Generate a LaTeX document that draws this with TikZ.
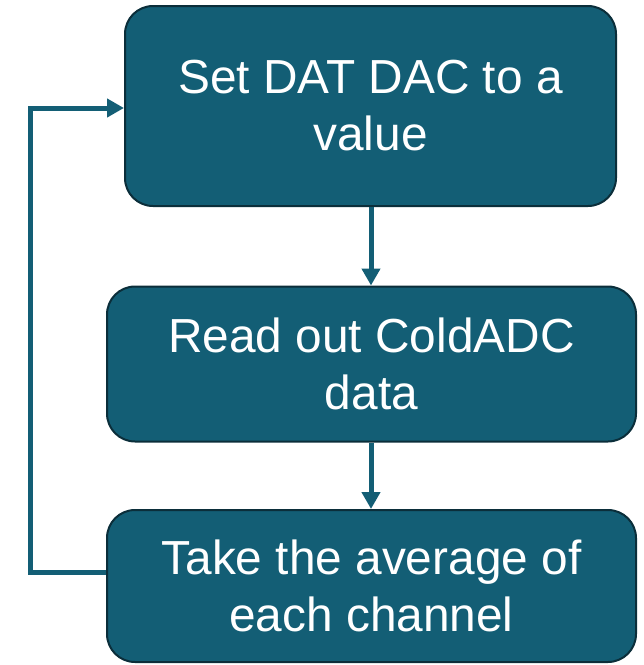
\documentclass[tikz,border=0pt]{standalone}
\usepackage{fontspec}
\setmainfont{Liberation Sans}
\usetikzlibrary{arrows.meta}
\definecolor{boxfill}{HTML}{135E75}
\definecolor{boxline}{HTML}{0B2E3A}
\begin{document}
\begin{tikzpicture}[x=1pt,y=-1pt,
  stepbox/.style={draw=boxline,line width=2pt,fill=boxfill,rounded corners=28pt,
    text=white,align=center,font=\fontsize{47.8}{57}\selectfont,inner sep=0pt},
  flow/.style={draw=boxfill,line width=5pt,-{Triangle[length=17pt,width=18pt]}}]
\useasboundingbox (0,0) rectangle (644,665);
\node[stepbox,minimum width=491pt,minimum height=200pt] (b1) at (370.5,106) {Set DAT DAC to a\\value};
\node[stepbox,minimum width=529pt,minimum height=155pt] (b2) at (371.5,364) {Read out ColdADC\\data};
\node[stepbox,minimum width=529pt,minimum height=152pt] (b3) at (371.5,586) {Take the average of\\each channel};
\coordinate (fb) at (30,572);
\draw[flow] (b1.south -| 371,0) -- (b2.north -| 371,0);
\draw[flow] (b2.south -| 371,0) -- (b3.north -| 371,0);
\draw[flow] (b3.west |- fb) -- (fb) |- ([yshift=-2pt]b1.west);
\end{tikzpicture}
\end{document}
